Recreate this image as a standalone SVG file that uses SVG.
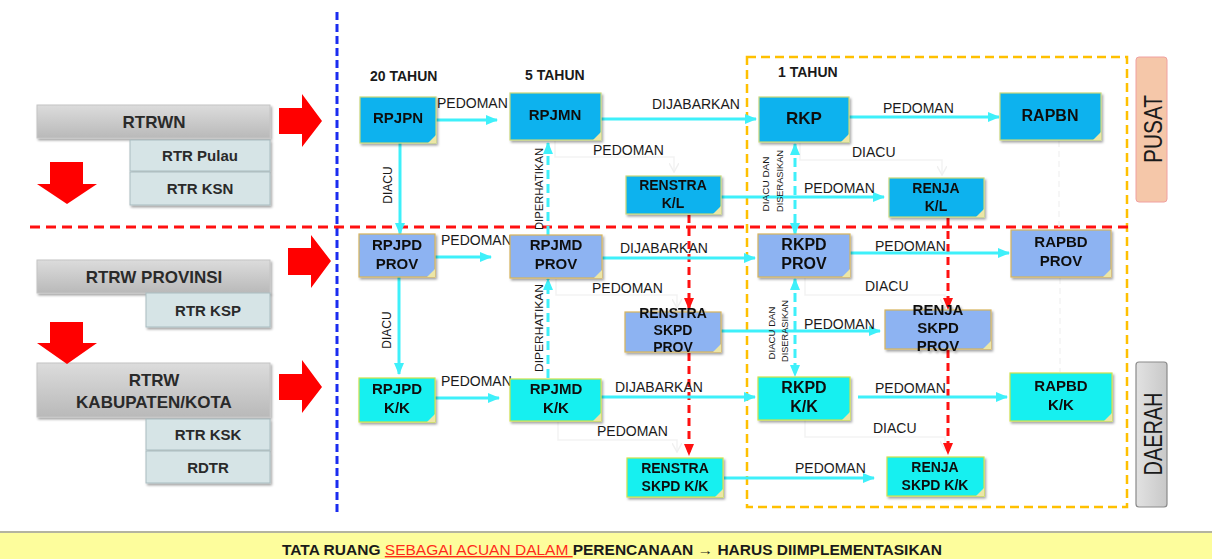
<svg xmlns="http://www.w3.org/2000/svg" width="1212" height="559" viewBox="0 0 1212 559">
<defs>
<style>
text{font-family:"Liberation Sans",Arial,sans-serif;fill:#1a1a1a}
.lbl{font-size:14px}
.nt{font-weight:bold;text-anchor:middle;fill:#111}
.lt{font-weight:bold;text-anchor:middle;fill:#2a2a2a}
.pus{fill:#10b2ee;stroke:#c9d77a;stroke-width:1.2}
.prv{fill:#8db3f2;stroke:#d8b45a;stroke-width:1.2}
.kk{fill:#14f0f0;stroke:#cfe24a;stroke-width:1.2}
.fold{fill:#ece6a6}
.cy{stroke:#3ef0fa;stroke-width:3;fill:none}
.cyd{stroke:#3ef0fa;stroke-width:3;fill:none;stroke-dasharray:9 5}
.rd{stroke:#ff1010;stroke-width:3;fill:none;stroke-dasharray:8 5}
.faint{stroke:#f3f3f3;stroke-width:1.5;fill:none}
.bar{fill:url(#gbar);stroke:#c4c4c4;stroke-width:1}
.sub{fill:#d6e4e6;stroke:#a9bcc0;stroke-width:1}
.rarr{fill:#ff0000}
</style>
<linearGradient id="gbar" x1="0" y1="0" x2="0" y2="1"><stop offset="0" stop-color="#dcdcdc"/><stop offset="1" stop-color="#b9b9b9"/></linearGradient>
<linearGradient id="gdae" x1="0" y1="0" x2="1" y2="0"><stop offset="0" stop-color="#e2e2e2"/><stop offset="1" stop-color="#c8c8c8"/></linearGradient>
<filter id="sh" x="-10%" y="-10%" width="130%" height="140%"><feDropShadow dx="1.5" dy="2" stdDeviation="1.2" flood-color="#000" flood-opacity="0.35"/></filter>
<marker id="ac" markerUnits="userSpaceOnUse" markerWidth="12" markerHeight="12" refX="11" refY="6" orient="auto-start-reverse"><path d="M0,1 L12,6 L0,11 z" fill="#3ef0fa"/></marker>
<marker id="ar" markerUnits="userSpaceOnUse" markerWidth="12" markerHeight="12" refX="11" refY="6" orient="auto"><path d="M0,1 L12,6 L0,11 z" fill="#ff1010"/></marker>
<marker id="af" markerUnits="userSpaceOnUse" markerWidth="10" markerHeight="10" refX="9" refY="5" orient="auto"><path d="M0,0 L9,5 L0,10" fill="none" stroke="#f0f0f0" stroke-width="1.5"/></marker>
</defs>
<rect width="1212" height="559" fill="#ffffff"/>

<!-- banner -->
<g id="banner">
<rect x="0" y="532" width="1212" height="27" fill="#fdfd9c"/>
<line x1="0" y1="532" x2="1212" y2="532" stroke="#b4b4a0" stroke-width="2"/>
<text x="282" y="555" font-size="14" font-weight="bold" textLength="660" lengthAdjust="spacingAndGlyphs">TATA RUANG <tspan fill="#ff2a1a" font-weight="normal" text-decoration="underline">SEBAGAI ACUAN DALAM </tspan> PERENCANAAN → HARUS DIIMPLEMENTASIKAN</text>
</g>

<!-- separators -->
<g id="separators">
<line x1="337" y1="12" x2="337" y2="512" stroke="#1a2cf0" stroke-width="3" stroke-dasharray="8 4"/>
<rect x="747" y="57" width="380" height="450" fill="none" stroke="#ffc000" stroke-width="2.5" stroke-dasharray="9 5"/>
</g>

<!-- left panel -->
<g id="rtrwn">
<rect class="bar" x="37" y="105" width="233" height="33" filter="url(#sh)"/>
<text class="lt" x="154" y="128" font-size="17">RTRWN</text>
</g>
<g id="rtr-pulau"><rect class="sub" x="130" y="140" width="140" height="31" filter="url(#sh)"/><text class="lt" x="200" y="161" font-size="15">RTR Pulau</text></g>
<g id="rtr-ksn"><rect class="sub" x="130" y="172" width="140" height="33" filter="url(#sh)"/><text class="lt" x="200" y="194" font-size="15">RTR KSN</text></g>
<g id="rtrw-prov">
<rect class="bar" x="37" y="260" width="233" height="33" filter="url(#sh)"/>
<text class="lt" x="154" y="283" font-size="17">RTRW PROVINSI</text>
</g>
<g id="rtr-ksp"><rect class="sub" x="146" y="293" width="124" height="34" filter="url(#sh)"/><text class="lt" x="208" y="316" font-size="15">RTR KSP</text></g>
<g id="rtrw-kab">
<rect class="bar" x="37" y="363" width="233" height="54" filter="url(#sh)"/>
<text class="lt" x="154" y="386" font-size="17">RTRW</text>
<text class="lt" x="154" y="408" font-size="17">KABUPATEN/KOTA</text>
</g>
<g id="rtr-ksk"><rect class="sub" x="146" y="419" width="124" height="31" filter="url(#sh)"/><text class="lt" x="208" y="440" font-size="15">RTR KSK</text></g>
<g id="rdtr"><rect class="sub" x="146" y="451" width="124" height="32" filter="url(#sh)"/><text class="lt" x="208" y="473" font-size="15">RDTR</text></g>

<g id="red-arrows">
<polygon class="rarr" points="279,108 302,108 302,94 322,121 302,147 302,134 279,134"/>
<polygon class="rarr" points="288,248 311,248 311,235 331,261 311,288 311,275 288,275"/>
<polygon class="rarr" points="279,374 302,374 302,360 322,387 302,413 302,400 279,400"/>
<polygon class="rarr" points="50,162 83,162 83,184 97,184 67,204 37,184 50,184"/>
<polygon class="rarr" points="50,322 83,322 83,343 97,343 67,364 37,343 50,343"/>
</g>

<line x1="30" y1="227" x2="1130" y2="227" stroke="#ff1010" stroke-width="3" stroke-dasharray="10 6"/>

<!-- PUSAT / DAERAH -->
<g id="pusat">
<rect x="1136" y="57" width="31" height="145" rx="3" fill="#f5c7a9" stroke="#f0a0a0" stroke-width="1"/>
<text x="1162" y="129" font-size="26" text-anchor="middle" transform="rotate(-90 1162 129)" textLength="68" lengthAdjust="spacingAndGlyphs" fill="#222">PUSAT</text>
</g>
<g id="daerah">
<rect x="1136" y="362" width="31" height="145" rx="3" fill="url(#gdae)" stroke="#8a8a8a" stroke-width="1.2"/>
<text x="1162" y="434" font-size="26" text-anchor="middle" transform="rotate(-90 1162 434)" textLength="83" lengthAdjust="spacingAndGlyphs" fill="#222">DAERAH</text>
</g>

<!-- connectors -->
<g id="connectors">
<!-- faint -->
<path class="faint" d="M555,141 V157 H674 V172" marker-end="url(#af)"/>
<path class="faint" d="M556,279 V295 H677 V308" marker-end="url(#af)"/>
<path class="faint" d="M558,422 V440 H677 V452" marker-end="url(#af)"/>
<path class="faint" d="M800,143 V160 H942 V175" marker-end="url(#af)"/>
<path class="faint" d="M805,278 V295 H945 V308" marker-end="url(#af)"/>
<path class="faint" d="M805,420 V437 H945 V450" marker-end="url(#af)"/>
<path class="faint" d="M1059,141 V228" stroke-dasharray="6 4"/>
<path class="faint" d="M1060,278 V372" stroke-dasharray="6 4"/>
<!-- red dashed -->
<path class="rd" d="M689,215 V309" marker-end="url(#ar)"/>
<path class="rd" d="M689,353 V455" marker-end="url(#ar)"/>
<path class="rd" d="M948,218 V309" marker-end="url(#ar)"/>
<path class="rd" d="M948,350 V454" marker-end="url(#ar)"/>
<!-- cyan solid -->
<path class="cy" d="M436,120 H497" marker-end="url(#ac)"/>
<path class="cy" d="M400,143 V234" marker-end="url(#ac)"/>
<path class="cy" d="M601,119 H756" marker-end="url(#ac)"/>
<path class="cy" d="M849,117 H999" marker-end="url(#ac)"/>
<path class="cy" d="M721,197 H884" marker-end="url(#ac)"/>
<path class="cy" d="M435,257 H491" marker-end="url(#ac)"/>
<path class="cy" d="M602,258 H755" marker-end="url(#ac)"/>
<path class="cy" d="M850,253 H1009" marker-end="url(#ac)"/>
<path class="cy" d="M399,277 V374" marker-end="url(#ac)"/>
<path class="cy" d="M721,331 H880" marker-end="url(#ac)"/>
<path class="cy" d="M435,398 H499" marker-end="url(#ac)"/>
<path class="cy" d="M601,397 H755" marker-end="url(#ac)"/>
<path class="cy" d="M858,397 H1007" marker-end="url(#ac)"/>
<path class="cy" d="M724,478 H874" marker-end="url(#ac)"/>
<!-- cyan dashed -->
<path class="cyd" d="M548,235 V143" marker-end="url(#ac)"/>
<path class="cyd" d="M548,378 V279" marker-end="url(#ac)"/>
<path class="cyd" d="M795,144 V234" marker-start="url(#ac)" marker-end="url(#ac)"/>
<path class="cyd" d="M795,279 V376" marker-start="url(#ac)" marker-end="url(#ac)"/>
</g>

<!-- connector labels -->
<g id="labels">
<text class="lbl" x="370" y="81" font-weight="bold">20 TAHUN</text>
<text class="lbl" x="525" y="80" font-weight="bold">5 TAHUN</text>
<text class="lbl" x="778" y="77" font-weight="bold">1 TAHUN</text>
<text class="lbl" x="437" y="108">PEDOMAN</text>
<text class="lbl" x="652" y="109">DIJABARKAN</text>
<text class="lbl" x="593" y="155">PEDOMAN</text>
<text class="lbl" x="883" y="113">PEDOMAN</text>
<text class="lbl" x="852" y="157">DIACU</text>
<text class="lbl" x="804" y="193">PEDOMAN</text>
<text x="392" y="185" font-size="12" text-anchor="middle" transform="rotate(-90 392 185)">DIACU</text>
<text x="543" y="189" font-size="11" text-anchor="middle" transform="rotate(-90 543 189)" textLength="82" lengthAdjust="spacingAndGlyphs">DIPERHATIKAN</text>
<text x="769" y="184" font-size="9" text-anchor="middle" transform="rotate(-90 769 184)" textLength="55" lengthAdjust="spacingAndGlyphs">DIACU DAN</text>
<text x="783" y="181" font-size="9" text-anchor="middle" transform="rotate(-90 783 181)" textLength="62" lengthAdjust="spacingAndGlyphs">DISERASIKAN</text>

<text class="lbl" x="441" y="245">PEDOMAN</text>
<text class="lbl" x="620" y="253">DIJABARKAN</text>
<text class="lbl" x="592" y="293">PEDOMAN</text>
<text class="lbl" x="875" y="251">PEDOMAN</text>
<text class="lbl" x="865" y="291">DIACU</text>
<text class="lbl" x="804" y="329">PEDOMAN</text>
<text x="391" y="330" font-size="12" text-anchor="middle" transform="rotate(-90 391 330)">DIACU</text>
<text x="543" y="328" font-size="11" text-anchor="middle" transform="rotate(-90 543 328)" textLength="88" lengthAdjust="spacingAndGlyphs">DIPERHATIKAN</text>
<text x="775" y="333" font-size="9" text-anchor="middle" transform="rotate(-90 775 333)" textLength="53" lengthAdjust="spacingAndGlyphs">DIACU DAN</text>
<text x="788" y="331" font-size="9" text-anchor="middle" transform="rotate(-90 788 331)" textLength="62" lengthAdjust="spacingAndGlyphs">DISERASIKAN</text>

<text class="lbl" x="441" y="386">PEDOMAN</text>
<text class="lbl" x="615" y="392">DIJABARKAN</text>
<text class="lbl" x="597" y="436">PEDOMAN</text>
<text class="lbl" x="875" y="393">PEDOMAN</text>
<text class="lbl" x="873" y="433">DIACU</text>
<text class="lbl" x="795" y="473">PEDOMAN</text>
</g>

<!-- PUSAT row nodes -->
<g id="rpjpn" filter="url(#sh)"><rect class="pus" x="360" y="97" width="76" height="46"/><polygon class="fold" points="428,143 436,135 436,143"/><text class="nt" x="398" y="123" font-size="15">RPJPN</text></g>
<g id="rpjmn" filter="url(#sh)"><rect class="pus" x="510" y="93" width="91" height="47"/><polygon class="fold" points="593,140 601,132 601,140"/><text class="nt" x="555" y="120" font-size="15">RPJMN</text></g>
<g id="rkp" filter="url(#sh)"><rect class="pus" x="759" y="97" width="90" height="45"/><polygon class="fold" points="841,142 849,134 849,142"/><text class="nt" x="804" y="124" font-size="17">RKP</text></g>
<g id="rapbn" filter="url(#sh)"><rect class="pus" x="1000" y="93" width="101" height="47"/><polygon class="fold" points="1093,140 1101,132 1101,140"/><text class="nt" x="1050" y="121" font-size="16">RAPBN</text></g>
<g id="renstra-kl" filter="url(#sh)"><rect class="pus" x="626" y="176" width="95" height="38"/><polygon class="fold" points="713,214 721,206 721,214"/><text class="nt" x="673" y="190" font-size="14">RENSTRA</text><text class="nt" x="673" y="208" font-size="14">K/L</text></g>
<g id="renja-kl" filter="url(#sh)"><rect class="pus" x="889" y="178" width="95" height="39"/><polygon class="fold" points="976,217 984,209 984,217"/><text class="nt" x="936" y="193" font-size="14">RENJA</text><text class="nt" x="936" y="211" font-size="14">K/L</text></g>

<!-- PROV row nodes -->
<g id="rpjpd-prov" filter="url(#sh)"><rect class="prv" x="359" y="234" width="76" height="43"/><polygon class="fold" points="427,277 435,269 435,277"/><text class="nt" x="397" y="250" font-size="15">RPJPD</text><text class="nt" x="397" y="269" font-size="15">PROV</text></g>
<g id="rpjmd-prov" filter="url(#sh)"><rect class="prv" x="510" y="235" width="92" height="43"/><polygon class="fold" points="594,278 602,270 602,278"/><text class="nt" x="556" y="250" font-size="15">RPJMD</text><text class="nt" x="556" y="269" font-size="15">PROV</text></g>
<g id="rkpd-prov" filter="url(#sh)"><rect class="prv" x="758" y="234" width="92" height="43"/><polygon class="fold" points="842,277 850,269 850,277"/><text class="nt" x="804" y="250" font-size="16">RKPD</text><text class="nt" x="804" y="269" font-size="16">PROV</text></g>
<g id="rapbd-prov" filter="url(#sh)"><rect class="prv" x="1011" y="230" width="100" height="47"/><polygon class="fold" points="1103,277 1111,269 1111,277"/><text class="nt" x="1061" y="247" font-size="15">RAPBD</text><text class="nt" x="1061" y="266" font-size="15">PROV</text></g>
<g id="renstra-skpd-prov" filter="url(#sh)"><rect class="prv" x="625" y="312" width="96" height="40"/><polygon class="fold" points="713,352 721,344 721,352"/><text class="nt" x="673" y="318" font-size="14">RENSTRA</text><text class="nt" x="673" y="335" font-size="14">SKPD</text><text class="nt" x="673" y="352" font-size="14">PROV</text></g>
<g id="renja-skpd-prov" filter="url(#sh)"><rect class="prv" x="885" y="310" width="106" height="39"/><polygon class="fold" points="983,349 991,341 991,349"/><text class="nt" x="938" y="315" font-size="15">RENJA</text><text class="nt" x="938" y="333" font-size="15">SKPD</text><text class="nt" x="938" y="351" font-size="15">PROV</text></g>

<!-- K/K row nodes -->
<g id="rpjpd-kk" filter="url(#sh)"><rect class="kk" x="359" y="378" width="76" height="44"/><polygon class="fold" points="427,422 435,414 435,422"/><text class="nt" x="397" y="394" font-size="15">RPJPD</text><text class="nt" x="397" y="413" font-size="15">K/K</text></g>
<g id="rpjmd-kk" filter="url(#sh)"><rect class="kk" x="510" y="379" width="91" height="42"/><polygon class="fold" points="593,421 601,413 601,421"/><text class="nt" x="556" y="394" font-size="15">RPJMD</text><text class="nt" x="556" y="413" font-size="15">K/K</text></g>
<g id="rkpd-kk" filter="url(#sh)"><rect class="kk" x="758" y="377" width="92" height="43"/><polygon class="fold" points="842,420 850,412 850,420"/><text class="nt" x="804" y="393" font-size="16">RKPD</text><text class="nt" x="804" y="412" font-size="16">K/K</text></g>
<g id="rapbd-kk" filter="url(#sh)"><rect class="kk" x="1010" y="373" width="102" height="48"/><polygon class="fold" points="1104,421 1112,413 1112,421"/><text class="nt" x="1061" y="391" font-size="15">RAPBD</text><text class="nt" x="1061" y="410" font-size="15">K/K</text></g>
<g id="renstra-skpd-kk" filter="url(#sh)"><rect class="kk" x="627" y="458" width="96" height="39"/><polygon class="fold" points="715,497 723,489 723,497"/><text class="nt" x="675" y="473" font-size="14">RENSTRA</text><text class="nt" x="675" y="491" font-size="14">SKPD K/K</text></g>
<g id="renja-skpd-kk" filter="url(#sh)"><rect class="kk" x="887" y="457" width="97" height="39"/><polygon class="fold" points="976,496 984,488 984,496"/><text class="nt" x="935" y="472" font-size="14">RENJA</text><text class="nt" x="935" y="490" font-size="14">SKPD K/K</text></g>
</svg>
